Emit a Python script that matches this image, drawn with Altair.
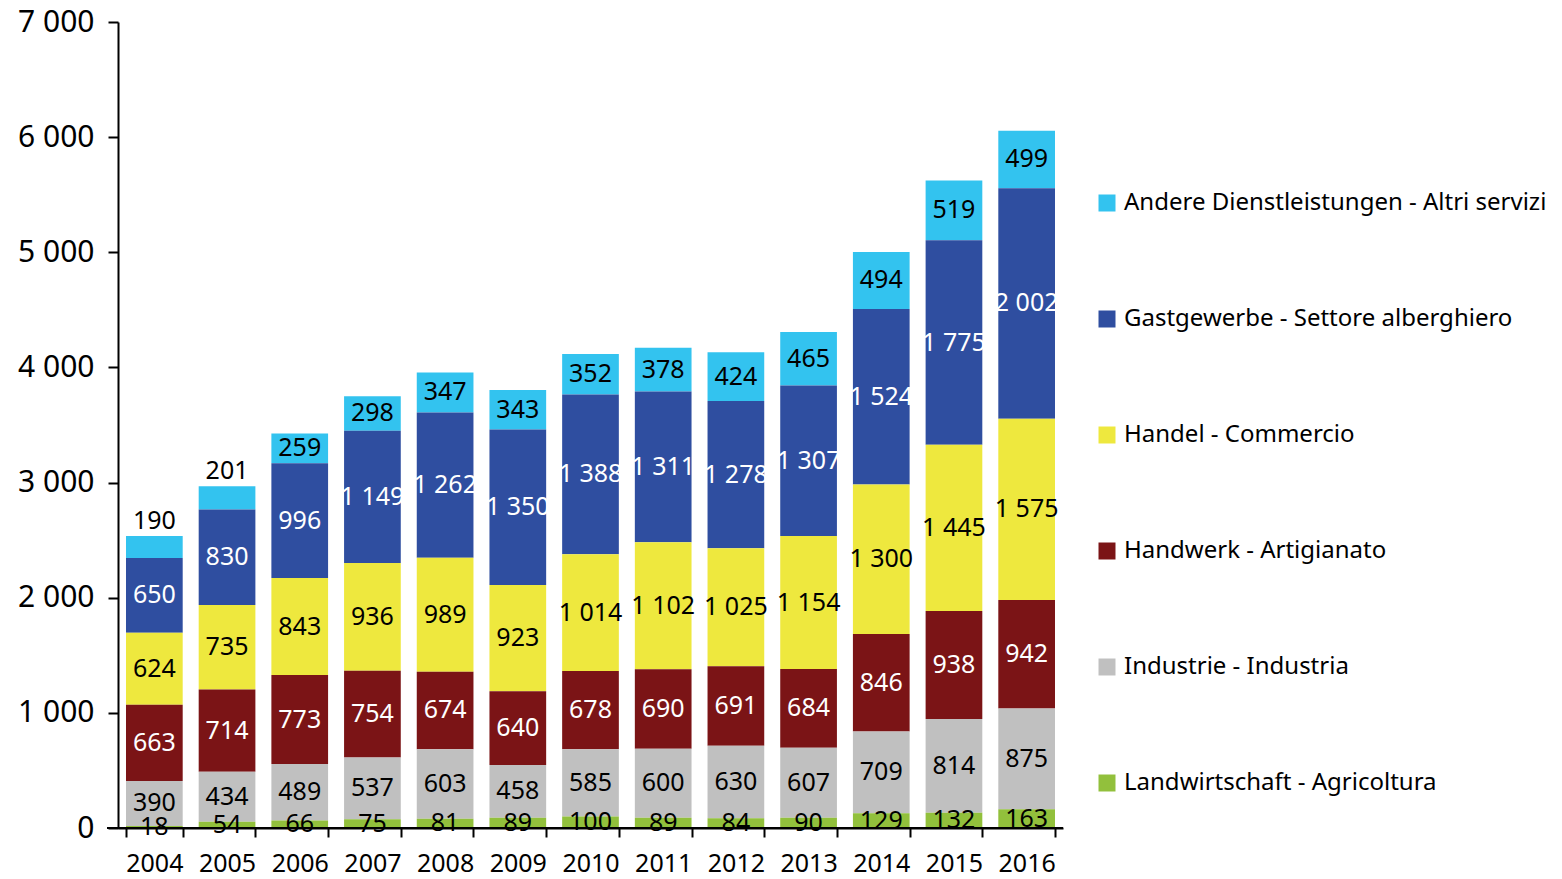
import altair as alt
import pandas as pd

years = ["2004", "2005", "2006", "2007", "2008", "2009", "2010",
         "2011", "2012", "2013", "2014", "2015", "2016"]
categories = [
    "Andere Dienstleistungen - Altri servizi",
    "Gastgewerbe - Settore alberghiero",
    "Handel - Commercio",
    "Handwerk - Artigianato",
    "Industrie - Industria",
    "Landwirtschaft - Agricoltura",
]
colors = ["#33C3EF", "#2F4EA0", "#EEE83E", "#7B1416", "#C0C0C0", "#92C03C"]
label_colors = ["black", "white", "black", "white", "black", "black"]

andere = [190, 201, 259, 298, 347, 343, 352, 378, 424, 465, 494, 519, 499]
gast = [650, 830, 996, 1149, 1262, 1350, 1388, 1311, 1278, 1307, 1524, 1775, 2002]
handel = [624, 735, 843, 936, 989, 923, 1014, 1102, 1025, 1154, 1300, 1445, 1575]
handwerk = [663, 714, 773, 754, 674, 640, 678, 690, 691, 684, 846, 938, 942]
industrie = [390, 434, 489, 537, 603, 458, 585, 600, 630, 607, 709, 814, 875]
landw = [18, 54, 66, 75, 81, 89, 100, 89, 84, 90, 129, 132, 163]

series = [andere, gast, handel, handwerk, industrie, landw]

rows = []
for ci, (cat, vals) in enumerate(zip(categories, series)):
    for y, v in zip(years, vals):
        rows.append({"year": y, "cat": cat, "value": v,
                     "order": len(categories) - 1 - ci,
                     "txtcol": label_colors[ci]})
df = pd.DataFrame(rows)

FONT = "Noto Sans"

base = alt.Chart(df)

x_enc = alt.X(
    "year:N",
    title=None,
    scale=alt.Scale(paddingInner=0.22, paddingOuter=0.11, round=False),
    axis=alt.Axis(labelAngle=0, tickBand="extent", tickSize=9, tickWidth=2,
                  tickColor="black", domainColor="black", domainWidth=2,
                  labelFontSize=25, labelFont=FONT, labelColor="black",
                  labelPadding=14),
)

bars = base.mark_bar().encode(
    x=x_enc,
    y=alt.Y("value:Q", stack="zero", title=None,
            scale=alt.Scale(domain=[0, 7000], nice=False),
            axis=alt.Axis(values=[0, 1000, 2000, 3000, 4000, 5000, 6000, 7000],
                          grid=False, tickSize=10, tickWidth=2, tickColor="black",
                          domainColor="black", domainWidth=2,
                          labelFontSize=30, labelFont=FONT, labelColor="black",
                          labelPadding=14,
                          labelExpr="replace(format(datum.value, ','), ',', ' ')")),
    color=alt.Color("cat:N", sort=categories,
                    scale=alt.Scale(domain=categories, range=colors),
                    legend=alt.Legend(title=None, orient="none", legendX=977, legendY=169,
                                      symbolType="square", symbolSize=289,
                                      symbolStrokeWidth=0, labelFont=FONT,
                                      labelFontSize=24, labelColor="black",
                                      labelOffset=5, rowPadding=92, labelLimit=600)),
    order=alt.Order("order:Q", sort="ascending"),
)

# x-axis baseline extending slightly left of the y-axis, as in the reference
baseline = alt.Chart(pd.DataFrame({"v": [0]})).mark_rule(color="black", strokeWidth=2).encode(
    x=alt.value(-11), x2=alt.value(945), y=alt.value(806)
)

labels = base.transform_stack(
    stack="value", groupby=["year"], as_=["v0", "v1"],
    sort=[alt.SortField("order", order="ascending")],
).transform_calculate(
    ypos="(datum.order == 5 && datum.value < 210) ? datum.v1 + 130 : (datum.v0 + datum.v1) / 2",
    lab="replace(format(datum.value, ','), ',', ' ')",
).mark_text(font=FONT, fontSize=25, baseline="middle", align="center").encode(
    x=alt.X("year:N"),
    y=alt.Y("ypos:Q"),
    text="lab:N",
    color=alt.Color("txtcol:N", scale=None),
)

chart = alt.layer(bars, labels, baseline).properties(
    width=945, height=806,
    autosize=alt.AutoSizeParams(type="none"),
    padding={"left": 110, "top": 14, "right": 490, "bottom": 51},
).configure_view(stroke=None)

chart.save("out.html", embed_options={"renderer": "svg", "actions": False})
